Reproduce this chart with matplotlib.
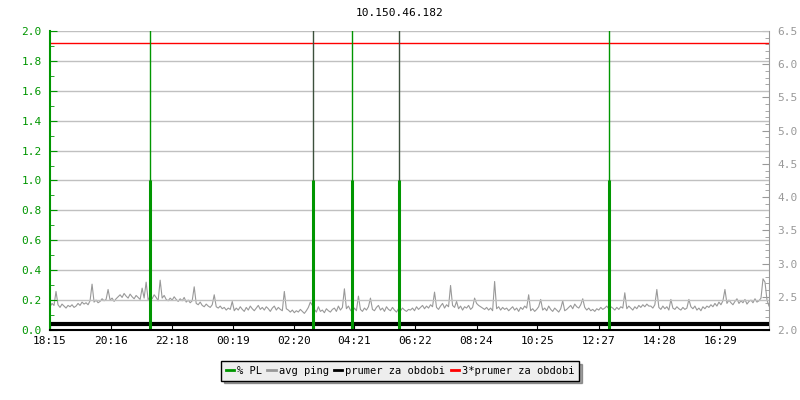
import matplotlib
matplotlib.use("Agg")
import matplotlib.pyplot as plt
from matplotlib.lines import Line2D
from matplotlib.ticker import MultipleLocator
import numpy as np

# Data
title = "10.150.46.182"
time_labels = ["18:15", "20:16", "22:18", "00:19", "02:20", "04:21",
               "06:22", "08:24", "10:25", "12:27", "14:28", "16:29"]
span_min = 1431  # minutes shown on the x axis

# packet loss spikes (minutes after 18:15, value on left axis)
pl_times = [199, 523, 601, 694, 1112]
pl_values = [1.0, 1.0, 1.0, 1.0, 1.0]
# full-height marks at the same moments
mark_colors = ["#009600", "#3c503c", "#009600", "#3c503c", "#009600"]

# avg ping in ms (right axis), one value every ~4 minutes
avg_ping = [
    2.35, 2.40, 2.37, 2.58, 2.38, 2.34, 2.39, 2.36, 2.33, 2.37, 2.35, 2.38, 2.34, 2.36, 2.40,
    2.37, 2.42, 2.39, 2.41, 2.38, 2.44, 2.69, 2.42, 2.45, 2.41, 2.43, 2.47, 2.44, 2.46, 2.61,
    2.45, 2.48, 2.43, 2.47, 2.50, 2.53, 2.49, 2.55, 2.51, 2.48, 2.54, 2.50, 2.47, 2.52, 2.49,
    2.46, 2.63, 2.48, 2.72, 2.45, 2.51, 2.47, 2.53, 2.49, 2.44, 2.75, 2.48, 2.52, 2.46, 2.44,
    2.48, 2.45, 2.50, 2.46, 2.43, 2.47, 2.44, 2.49, 2.42, 2.45, 2.41, 2.44, 2.65, 2.40, 2.38,
    2.42, 2.37, 2.35, 2.39, 2.36, 2.34, 2.38, 2.53, 2.35, 2.33, 2.36, 2.32, 2.34, 2.30, 2.33,
    2.31, 2.43, 2.29, 2.33, 2.30, 2.35, 2.31, 2.28, 2.34, 2.30, 2.36, 2.32, 2.29, 2.33, 2.37,
    2.31, 2.34, 2.30, 2.35, 2.32, 2.28, 2.33, 2.36, 2.30, 2.34, 2.31, 2.29, 2.58, 2.32, 2.30,
    2.27, 2.30, 2.26, 2.29, 2.27, 2.31, 2.28, 2.25, 2.29, 2.34, 2.42, 2.37, 2.31, 2.27, 2.35,
    2.28, 2.30, 2.26, 2.32, 2.29, 2.27, 2.31, 2.33, 2.28, 2.36, 2.30, 2.34, 2.62, 2.32, 2.36,
    2.30, 2.27, 2.33, 2.29, 2.51, 2.31, 2.28, 2.33, 2.30, 2.35, 2.48, 2.31, 2.29, 2.34, 2.37,
    2.30, 2.33, 2.28, 2.35, 2.31, 2.29, 2.34, 2.30, 2.27, 2.32, 2.29, 2.33, 2.30, 2.28, 2.31,
    2.30, 2.33, 2.29, 2.35, 2.31, 2.34, 2.37, 2.32, 2.36, 2.33, 2.38, 2.35, 2.57, 2.34, 2.31,
    2.36, 2.40, 2.33, 2.38, 2.35, 2.67, 2.37, 2.34, 2.43, 2.32, 2.36, 2.30, 2.35, 2.33, 2.37,
    2.31, 2.34, 2.48, 2.40, 2.37, 2.35, 2.33, 2.31, 2.34, 2.30, 2.33, 2.29, 2.73, 2.32, 2.35,
    2.30, 2.34, 2.31, 2.33, 2.29, 2.32, 2.35, 2.30, 2.33, 2.28, 2.34, 2.31, 2.36, 2.33, 2.53,
    2.29, 2.32, 2.28, 2.31, 2.35, 2.46, 2.30, 2.33, 2.29, 2.36, 2.31, 2.28, 2.33, 2.30, 2.27,
    2.32, 2.44, 2.29, 2.31, 2.34, 2.37, 2.32, 2.39, 2.35, 2.33, 2.38, 2.47, 2.34, 2.30, 2.33,
    2.29, 2.31, 2.28, 2.32, 2.30, 2.34, 2.31, 2.33, 2.36, 2.32, 2.35, 2.33, 2.30, 2.34, 2.31,
    2.35, 2.33, 2.56, 2.32, 2.36, 2.33, 2.30, 2.35, 2.32, 2.37, 2.34, 2.38, 2.35, 2.39, 2.36,
    2.36, 2.33, 2.38, 2.61, 2.34, 2.31, 2.36, 2.32, 2.35, 2.30, 2.46, 2.33, 2.31, 2.35, 2.32,
    2.30, 2.34, 2.31, 2.33, 2.46, 2.35, 2.32, 2.36, 2.30, 2.33, 2.29, 2.35, 2.32, 2.36, 2.34,
    2.38, 2.35, 2.40, 2.36, 2.42, 2.38, 2.44, 2.61, 2.40, 2.45, 2.41, 2.38, 2.43, 2.47, 2.40,
    2.44, 2.41, 2.46, 2.39, 2.43, 2.45, 2.41, 2.47, 2.42, 2.44, 2.48, 2.77, 2.72, 2.45, 2.36,
]

mean_level = 0.04      # "prumer za obdobi" (left axis)
mean3_level = 1.92     # "3*prumer za obdobi" (left axis)

green = "#009600"
grey = "#999999"
font = "DejaVu Sans Mono"
plt.rcParams["font.family"] = font

# tick positions in minutes after 18:15
def minutes_after_start(label):
    h, m = map(int, label.split(":"))
    return ((h * 60 + m) - (18 * 60 + 15)) % 1440

tick_pos = [minutes_after_start(t) for t in time_labels]
ping_x = np.linspace(0, span_min, len(avg_ping))

fig = plt.figure(figsize=(8, 4), dpi=100)
ax = fig.add_axes([50 / 800, 70 / 400, 719 / 800, 299 / 400])
ax2 = ax.twinx()

# ping on the right axis
ax2.plot(ping_x, avg_ping, color=grey, lw=0.8)
ax2.set_ylim(2.0, 6.5)
ax2.yaxis.set_major_locator(MultipleLocator(0.5))
ax2.yaxis.set_minor_locator(MultipleLocator(0.1))
ax2.yaxis.set_major_formatter(lambda v, p: f"{v:.1f}")
ax2.tick_params(axis="y", which="both", direction="in", colors=grey,
                labelsize=8, pad=6)
ax2.tick_params(axis="y", which="major", length=5)
ax2.tick_params(axis="y", which="minor", length=3)

# left axis drawn above the ping line
ax.set_zorder(ax2.get_zorder() + 1)
ax.patch.set_visible(False)

ax.axhline(mean_level, color="black", lw=3)
ax.axhline(mean3_level, color="red", lw=1)
for t, c in zip(pl_times, mark_colors):
    ax.axvline(t, color=c, lw=1)
ax.vlines(pl_times, 0, pl_values, color=green, lw=2.2)

ax.set_xlim(0, span_min)
ax.set_ylim(0, 2.0)
ax.yaxis.set_major_locator(MultipleLocator(0.2))
ax.yaxis.set_minor_locator(MultipleLocator(0.1))
ax.yaxis.set_major_formatter(lambda v, p: f"{v:.1f}")
ax.grid(axis="y", which="major", color="#c0c0c0", lw=1)
ax.set_axisbelow(True)
ax.tick_params(axis="y", which="both", direction="in", colors=green,
               labelsize=8, pad=6)
ax.tick_params(axis="y", which="major", length=5)
ax.tick_params(axis="y", which="minor", length=3)

ax.set_xticks(tick_pos)
ax.set_xticklabels(time_labels)
ax.tick_params(axis="x", direction="in", length=6, labelsize=8, pad=4,
               color="black")

# spines
for a in (ax, ax2):
    a.spines["top"].set_visible(False)
ax.spines["left"].set_color(green)
ax.spines["left"].set_linewidth(1.5)
ax.spines["right"].set_visible(False)
ax2.spines["left"].set_visible(False)
ax2.spines["right"].set_color(grey)
ax.spines["bottom"].set_color("black")
ax.spines["bottom"].set_linewidth(1.5)
ax2.spines["bottom"].set_visible(False)

fig.text(0.5, 1 - 13 / 400, title, ha="center", va="center",
         fontsize=8, family=font)

# legend
handles = [Line2D([], [], color=green, lw=2),
           Line2D([], [], color=grey, lw=2),
           Line2D([], [], color="black", lw=2),
           Line2D([], [], color="red", lw=2)]
labels = ["% PL", "avg ping", "prumer za obdobi", "3*prumer za obdobi"]
leg = fig.legend(handles, labels, loc="center", bbox_to_anchor=(0.5, 1 - 371 / 400),
                 ncol=4, fontsize=7.5, frameon=True, fancybox=False, shadow=True,
                 handlelength=0.8, handletextpad=0.3, columnspacing=0.5,
                 borderpad=0.45, borderaxespad=0)
leg.get_frame().set_facecolor("#eeeeee")
leg.get_frame().set_edgecolor("black")
leg.get_frame().set_alpha(1)

fig.savefig("out.png", dpi=100)
